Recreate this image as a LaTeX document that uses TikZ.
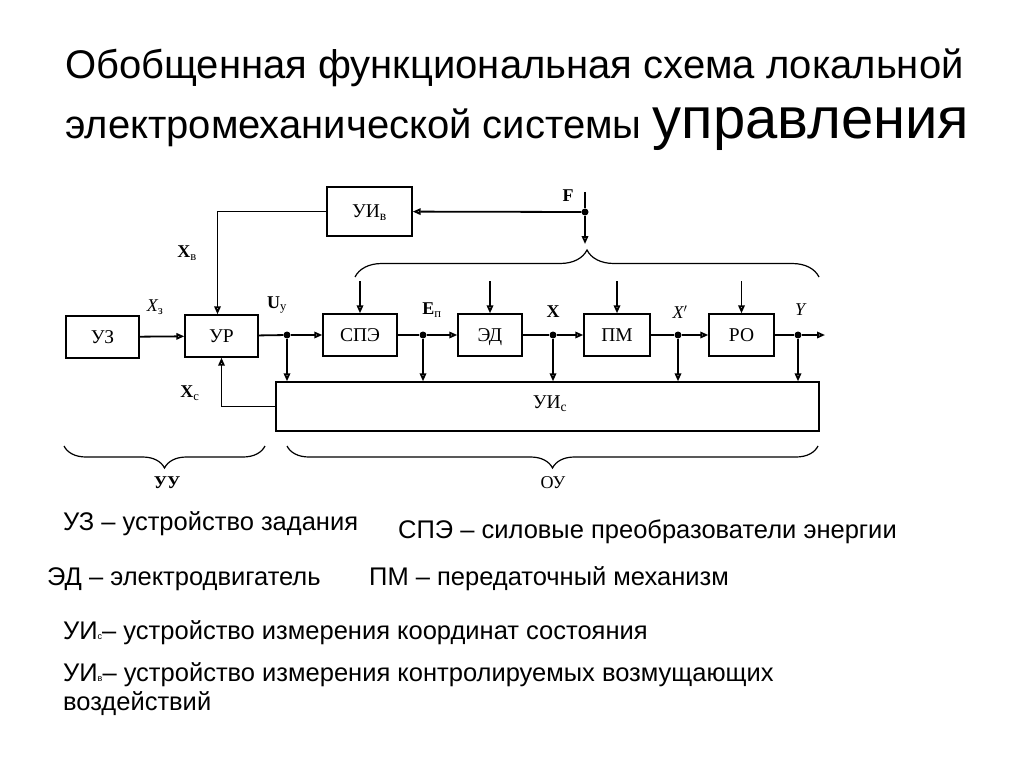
\documentclass[tikz,border=0pt]{standalone}
\usepackage{fontspec}
\setmainfont{Liberation Serif}
\newfontfamily\arialfont{Liberation Sans}
\usetikzlibrary{arrows.meta,decorations.pathreplacing,positioning}

\tikzset{
  blok/.style={draw, line width=1.4pt, minimum height=42pt, inner sep=0pt,
    text height=13pt, text depth=1pt, font=\fontsize{19.5}{19.5}\selectfont},
  sig/.style={line width=1.8pt, -{Triangle[open,length=8pt,width=6.5pt]}},
  wire/.style={line width=1.8pt},
  dot/.style={circle, fill, inner sep=0pt, minimum size=7pt},
  lbl/.style={font=\fontsize{18}{18}\selectfont, inner sep=0pt},
  skobka/.style={line width=1.2pt, decorate, decoration={brace, amplitude=#1}},
  legenda/.style={anchor=base west, inner sep=0pt, font=\arialfont\fontsize{25.5}{25.5}\selectfont}
}

\begin{document}
\begin{tikzpicture}[x=1pt,y=-1pt]
\fill[white] (0,0) rectangle (1024,767);
\useasboundingbox (0,0) rectangle (1024,767);

% title
\node[anchor=base west, inner sep=0pt, font=\arialfont\fontsize{40}{40}\selectfont] (t1) at (65,79)
  {Обобщенная функциональная схема локальной};
\node[anchor=base west, inner sep=0pt, font=\arialfont\fontsize{40}{40}\selectfont] (t2) at (65,139)
  {электромеханической системы {\fontsize{58}{58}\selectfont управления}};

% blocks
\node[blok, minimum width=73pt] (uz) at (102.5,337) {УЗ};
\node[blok, minimum width=73pt] (ur) at (221.5,336) {УР};
\node[blok, minimum width=85pt, minimum height=49pt] (uiv) at (369.5,211.5) {УИ\textsubscript{в}};
\node[blok, minimum width=74pt] (spe) at (360,335) {СПЭ};
\node[blok, minimum width=64pt] (ed) at (490,335) {ЭД};
\node[blok, minimum width=66pt] (pm) at (617,335) {ПМ};
\node[blok, minimum width=65pt] (ro) at (741.5,335) {РО};
\node[blok, minimum width=543pt, minimum height=49pt] (uic) at (547.5,406.5) {};
\node[lbl, font=\fontsize{19.5}{19.5}\selectfont] (uicl) at (550,404) {УИ\textsubscript{с}};

% junctions
\node[dot] (j1) at (287,335) {};
\node[dot] (j2) at (423,335) {};
\node[dot] (j3) at (553,335) {};
\node[dot] (j4) at (678,335) {};
\node[dot] (j5) at (798,335) {};
\node[dot] (jf) at (585,212) {};
\coordinate (yend) at (825,335);
\coordinate (ftop) at (585,192);
\coordinate (ftip) at (585,244);

% main chain
\draw[sig] (uz) -- (ur);
\draw[wire] (ur) -- (j1);
\draw[sig] (j1) -- (spe);
\draw[wire] (spe) -- (j2);
\draw[sig] (j2) -- (ed);
\draw[wire] (ed) -- (j3);
\draw[sig] (j3) -- (pm);
\draw[wire] (pm) -- (j4);
\draw[sig] (j4) -- (ro);
\draw[wire] (ro) -- (j5);
\draw[sig] (j5) -- (yend);
\foreach \j in {j1,j2,j3,j4,j5}
  \draw[sig] (\j) -- (\j |- uic.north);

% feedback loops
\draw[sig] (uic.west) -| (ur.south);
\draw[sig] (uiv.west) -| ([xshift=-4pt]ur.north);
\draw[wire] (ftop) -- (jf);
\draw[sig] (jf) -- (uiv);
\draw[sig] (jf) -- (ftip);

% disturbances
\draw[skobka=27pt] (355,277) -- (819,277);
\foreach \b in {spe,ed,pm,ro}
  \draw[sig] (\b.north |- 0,281) -- (\b.north);

\draw[skobka=22pt] (265,446) -- (64,446);
\draw[skobka=22pt] (818,446) -- (287,446);

% signal labels
\node[lbl] (xz) at (155,307) {{\itshape X}\textsubscript{з}};
\node[lbl] (xv) at (187,253) {\textbf{X}\textsubscript{в}};
\node[lbl] (xc) at (190,393) {\textbf{X}\textsubscript{с}};
\node[lbl] (uy) at (277,305) {\textbf{U}\textsubscript{у}};
\node[lbl] (ep) at (432,310) {\textbf{E}\textsubscript{п}};
\node[lbl] (xx) at (553,312) {\textbf{X}};
\node[lbl] (xs) at (680,312) {\itshape X$'$};
\node[lbl] (yy) at (800,310) {\itshape Y};
\node[lbl] (ff) at (568,196) {\textbf{F}};
\node[lbl] (uu) at (167,483) {\textbf{УУ}};
\node[lbl] (ou) at (553,483) {ОУ};

% legend
\node[legenda] (l1) at (63,530) {УЗ – устройство задания};
\node[legenda] (l2) at (398,538) {СПЭ – силовые преобразователи энергии};
\node[legenda] (l3) at (47,585) {ЭД – электродвигатель};
\node[legenda] (l4) at (369,585) {ПМ – передаточный механизм};
\node[legenda] (l5) at (63,639) {УИ{\fontsize{9}{9}\selectfont с}– устройство измерения координат состояния};
\node[legenda] (l6) at (63,681) {УИ{\fontsize{9}{9}\selectfont в}– устройство измерения контролируемых возмущающих};
\node[legenda] (l7) at (63,710) {воздействий};
\end{tikzpicture}
\end{document}
